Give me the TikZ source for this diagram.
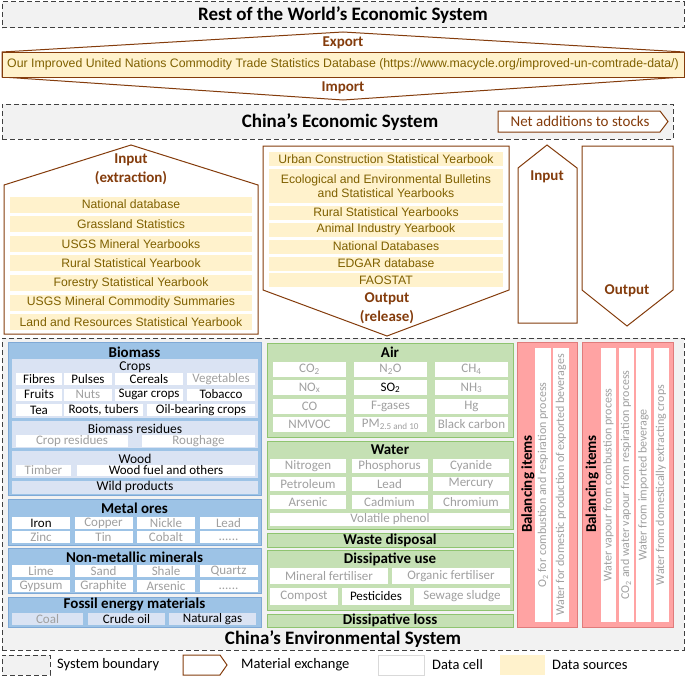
\documentclass[tikz,border=0pt]{standalone}
\usepackage{fontspec}
\setmainfont{Carlito}
\newfontfamily\arialf{Liberation Sans}
\definecolor{brn}{HTML}{843C0C}
\definecolor{dsfill}{HTML}{FFF2CC}
\definecolor{dstext}{HTML}{7F6000}
\definecolor{sysg}{HTML}{F2F2F2}
\definecolor{bluef}{HTML}{9DC3E6}
\definecolor{blued}{HTML}{7FA9D6}
\definecolor{bluel}{HTML}{DAE3F3}
\definecolor{greenf}{HTML}{C5E0B4}
\definecolor{greend}{HTML}{8FC470}
\definecolor{pinkf}{HTML}{FFA3A3}
\definecolor{pinkd}{HTML}{E07B7B}
\definecolor{natxt}{HTML}{A0A0A0}
\newcommand\sixdots{\vphantom{Lg}......}
\newcommand\bx[7]{\node[#1,inner sep=0pt,outer sep=0pt,minimum width={(#5-#3)*1pt},minimum height={(#6-#4)*1pt}] (#2) at ({(#3+#5)/2},{(#4+#6)/2}) {#7};}
\tikzset{
 sysbox/.style={draw=black!75,fill=sysg,dash pattern=on 5pt off 3pt,line width=1pt},
 systitle/.style={font=\fontsize{19}{22}\selectfont\bfseries,inner sep=0pt},
 exch/.style={draw=brn,line width=1pt,fill=white},
 brl/.style={text=brn,font=\fontsize{15}{18}\selectfont\bfseries,inner sep=0pt},
 ds/.style={fill=dsfill,text=dstext,font=\arialf\fontsize{12.2}{14}\selectfont,align=center},
 cell/.style={fill=white,font=\fontsize{13}{15}\selectfont},
 na/.style={cell,text=natxt},
 ok/.style={cell,text=black},
 bluebox/.style={fill=bluef,draw=blued,line width=0.8pt},
 bluesub/.style={fill=bluel},
 greenbox/.style={fill=greenf,draw=greend,line width=0.8pt},
 pinkbox/.style={fill=pinkf,draw=pinkd,line width=0.8pt},
 sect/.style={font=\fontsize{15}{18}\selectfont\bfseries,inner sep=0pt},
 subt/.style={font=\fontsize{13.5}{16}\selectfont,inner sep=0pt},
 rotcell/.style={fill=white},
 rottxt/.style={rotate=90,text=natxt,font=\fontsize{12}{14}\selectfont,inner sep=0pt},
 legt/.style={font=\fontsize{14.5}{17}\selectfont,anchor=west,inner sep=0pt},
}
\begin{document}
\begin{tikzpicture}[x=1pt,y=-1pt]
\useasboundingbox (0,0) rectangle (685,677);
% ---------- Rest of the world ----------
\bx{sysbox}{row}{2}{2}{684}{28}{}
\node[systitle] (rowt) at (343,15) {Rest of the World’s Economic System};
\draw[exch] (2,52) -- (343,32) -- (684,52) -- (684,77) -- (343,100) -- (2,77) -- cycle;
\bx{ds,draw=brn,line width=1pt,font=\arialf\fontsize{12.3}{14}\selectfont}{trade}{2}{52.5}{684}{77}{Our Improved United Nations Commodity Trade Statistics Database (https://www.macycle.org/improved-un-comtrade-data/)}
\node[brl] (export) at (343,43) {Export};
\node[brl] (import) at (343,88) {Import};
% ---------- China's economic system ----------
\bx{sysbox}{econ}{2}{104}{673}{139}{}
\node[systitle] (econt) at (340,122) {China’s Economic System};
\draw[exch] (498,111) -- (660,111) -- (668,121.5) -- (660,132) -- (498,132) -- cycle;
\node[font=\fontsize{15}{18}\selectfont,text=brn,inner sep=0pt] (nas) at (580,121.5) {Net additions to stocks};
% input (extraction)
\draw[exch] (4,185) -- (131,145) -- (258,185) -- (258,334) -- (4,334) -- cycle;
\node[brl] (inx1) at (131,160) {Input};
\node[brl] (inx2) at (131,178) {(extraction)};
\foreach \t [count=\i from 0] in {National database,Grassland Statistics,USGS Mineral Yearbooks,Rural Statistical Yearbook,Forestry Statistical Yearbook,USGS Mineral Commodity Summaries,Land and Resources Statistical Yearbook}{
  \pgfmathsetmacro\ya{196.5+\i*19.6}\pgfmathsetmacro\yb{\ya+16}
  \bx{ds}{in\i}{10}{\ya}{252}{\yb}{\t}
}
% output (release)
\draw[exch] (263,146) -- (509,146) -- (509,290) -- (387,336) -- (263,290) -- cycle;
\bx{ds}{o1}{269}{152}{503}{166}{Urban Construction Statistical Yearbook}
\bx{ds}{o2}{269}{169}{503}{203}{Ecological and Environmental Bulletins\\and Statistical Yearbooks}
\bx{ds}{o3}{269}{205.5}{503}{219.5}{Rural Statistical Yearbooks}
\bx{ds}{o4}{269}{222.5}{503}{236.5}{Animal Industry Yearbook}
\bx{ds}{o5}{269}{239.5}{503}{253.5}{National Databases}
\bx{ds}{o6}{269}{256.5}{503}{270.5}{EDGAR database}
\bx{ds}{o7}{269}{273}{503}{287}{FAOSTAT}
\node[brl] (outr1) at (387,299) {Output};
\node[brl] (outr2) at (387,317) {(release)};
% small input / output
\draw[exch] (518,168) -- (547,145) -- (577,168) -- (577,323) -- (518,323) -- cycle;
\node[brl] (in2) at (547,177) {Input};
\draw[exch] (582,146) -- (673,146) -- (673,290) -- (627,326) -- (582,290) -- cycle;
\node[brl] (out2) at (627,291) {Output};
% ---------- China's environmental system ----------
\bx{sysbox}{env}{2}{338}{684}{650}{}
\node[systitle] (envt) at (343,639) {China’s Environmental System};
% Biomass
\bx{bluebox}{bio}{8}{342}{261}{495}{}
\node[sect] (biot) at (134.5,352) {Biomass};
\bx{bluesub}{crops}{12}{359}{258}{418}{}
\node[subt] (cropst) at (135,367.5) {Crops};
\bx{ok}{c11}{16}{373}{62}{385}{Fibres}
\bx{ok}{c12}{64}{373}{112}{385}{Pulses}
\bx{ok}{c13}{115}{373}{183}{385}{Cereals}
\bx{na}{c14}{187}{373}{255}{385}{Vegetables}
\bx{ok}{c21}{16}{388.5}{62}{400.5}{Fruits}
\bx{na}{c22}{64}{388.5}{112}{400.5}{Nuts}
\bx{ok}{c23}{115}{388.5}{183}{400.5}{Sugar crops}
\bx{ok}{c24}{187}{388.5}{255}{400.5}{Tobacco}
\bx{ok}{c31}{16}{404}{62}{416}{Tea}
\bx{ok}{c32}{64}{404}{143}{416}{Roots, tubers}
\bx{ok}{c33}{147}{404}{255}{416}{Oil-bearing crops}
\bx{bluesub}{res}{12}{421}{258}{448}{}
\node[subt] (rest) at (135,429) {Biomass residues};
\bx{na}{r1}{16}{436}{128}{446}{Crop residues}
\bx{na}{r2}{142}{436}{255}{446}{Roughage}
\bx{bluesub}{wood}{12}{450.5}{258}{478}{}
\node[subt] (woodt) at (135,458.5) {Wood};
\bx{na}{w1}{16}{465}{71}{476}{Timber}
\bx{ok}{w2}{77}{465}{255}{476}{Wood fuel and others}
\bx{bluesub,subt}{wild}{12}{480.5}{258}{494}{Wild products}
% Metal ores
\bx{bluebox}{met}{8}{499}{261}{545}{}
\node[sect] (mett) at (134.5,508) {Metal ores};
\foreach \t/\s [count=\i from 0] in {Iron/ok,Copper/na,Nickle/na,Lead/na,Zinc/na,Tin/na,Cobalt/na,\sixdots/na}{
  \pgfmathtruncatemacro\c{mod(\i,4)}\pgfmathtruncatemacro\r{div(\i,4)}
  \pgfmathsetmacro\xa{12+\c*62.5}\pgfmathsetmacro\xb{\xa+58}
  \pgfmathsetmacro\ya{517+\r*14}\pgfmathsetmacro\yb{\ya+12}
  \bx{\s}{m\i}{\xa}{\ya}{\xb}{\yb}{\t}
}
% Non-metallic minerals
\bx{bluebox}{nm}{8}{548}{261}{593}{}
\node[sect] (nmt) at (134.5,557.5) {Non-metallic minerals};
\foreach \t [count=\i from 0] in {Lime,Sand,Shale,Quartz,Gypsum,Graphite,Arsenic,\sixdots}{
  \pgfmathtruncatemacro\c{mod(\i,4)}\pgfmathtruncatemacro\r{div(\i,4)}
  \pgfmathsetmacro\xa{12+\c*62.5}\pgfmathsetmacro\xb{\xa+58}
  \pgfmathsetmacro\ya{565+\r*15}\pgfmathsetmacro\yb{\ya+12}
  \bx{na}{n\i}{\xa}{\ya}{\xb}{\yb}{\t}
}
% Fossil
\bx{bluebox}{fos}{8}{597}{261}{627}{}
\node[sect] (fost) at (134.5,605) {Fossil energy materials};
\bx{na,fill=bluel}{f1}{12}{613}{83}{625}{Coal}
\bx{ok,fill=bluel}{f2}{88}{613}{165}{625}{Crude oil}
\bx{ok,fill=bluel}{f3}{169}{613}{256}{625}{Natural gas}
% Air
\bx{greenbox}{air}{267}{343}{513}{437}{}
\node[sect] (airt) at (390,352) {Air};
\foreach \t/\s [count=\i from 0] in {CO\textsubscript{2}/na,N\textsubscript{2}O/na,CH\textsubscript{4}/na,NO\textsubscript{x}/na,SO\textsubscript{2}/ok,NH\textsubscript{3}/na,CO/na,F-gases/na,Hg/na,NMVOC/na,PM\textsubscript{2.5 and 10}/na,Black carbon/na}{
  \pgfmathtruncatemacro\c{mod(\i,3)}\pgfmathtruncatemacro\r{div(\i,3)}
  \pgfmathsetmacro\xa{273+\c*81}\pgfmathsetmacro\xb{\xa+73}
  \pgfmathsetmacro\ya{362+\r*18.3}\pgfmathsetmacro\yb{\ya+15}
  \bx{\s}{a\i}{\xa}{\ya}{\xb}{\yb}{\t}
}
% Water
\bx{greenbox}{wat}{267}{441}{513}{529}{}
\node[sect] (watt) at (390,450) {Water};
\foreach \t [count=\i from 0] in {Nitrogen,Phosphorus,Cyanide,Petroleum,Lead,Mercury,Arsenic,Cadmium,Chromium}{
  \pgfmathtruncatemacro\c{mod(\i,3)}\pgfmathtruncatemacro\r{div(\i,3)}
  \pgfmathsetmacro\xa{270+\c*81.5}\pgfmathsetmacro\xb{\xa+76}
  \pgfmathsetmacro\ya{459+\r*17.8}\pgfmathsetmacro\yb{\ya+14}
  \bx{na}{wa\i}{\xa}{\ya}{\xb}{\yb}{\t}
}
\bx{na}{wa9}{270}{512.5}{510}{526}{Volatile phenol}
% Waste disposal
\bx{greenbox,sect}{waste}{267}{533}{513}{547}{Waste disposal}
% Dissipative use
\bx{greenbox}{du}{267}{550}{513}{610}{}
\node[sect] (dut) at (390,559.5) {Dissipative use};
\bx{na}{d1}{270}{568}{388}{584}{Mineral fertiliser}
\bx{na}{d2}{392}{568}{510}{584}{Organic fertiliser}
\bx{na}{d3}{270}{588}{338}{605}{Compost}
\bx{ok}{d4}{342}{588}{410}{605}{Pesticides}
\bx{na}{d5}{414}{588}{510}{605}{Sewage sludge}
% Dissipative loss
\bx{greenbox,sect}{dl}{267}{614}{513}{627}{Dissipative loss}
% Balancing items 1
\bx{pinkbox}{bal1}{517}{342}{577}{627}{}
\node[sect,rotate=90] (bal1t) at (528,484) {Balancing items};
\bx{rotcell}{b11}{535}{348}{551}{622}{}
\node[rottxt] (b11t) at (b11.center) {O\textsubscript{2} for combustion and respiration process};
\bx{rotcell}{b12}{553}{348}{569}{622}{}
\node[rottxt] (b12t) at (b12.center) {Water for domestic production of exported beverages};
% Balancing items 2
\bx{pinkbox}{bal2}{582}{342}{673}{627}{}
\node[sect,rotate=90] (bal2t) at (592,484) {Balancing items};
\bx{rotcell}{b21}{601}{348}{616}{622}{}
\node[rottxt] (b21t) at (b21.center) {Water vapour from combustion process};
\bx{rotcell}{b22}{618.5}{348}{633.5}{622}{}
\node[rottxt] (b22t) at (b22.center) {CO\textsubscript{2} and water vapour from respiration process};
\bx{rotcell}{b23}{636}{348}{651}{622}{}
\node[rottxt] (b23t) at (b23.center) {Water from imported beverage};
\bx{rotcell}{b24}{653.5}{348}{668.5}{622}{}
\node[rottxt] (b24t) at (b24.center) {Water from domestically extracting crops};
% ---------- Legend ----------
\bx{sysbox}{lg1}{2}{655}{50}{675}{}
\node[legt] (lg1t) at (57,665) {System boundary};
\draw[exch] (183,655) -- (220,655) -- (227,665) -- (220,675) -- (183,675) -- cycle;
\node[legt] (lg2t) at (241,665) {Material exchange};
\bx{fill=white,draw=black!15,line width=0.8pt}{lg3}{378}{655}{424}{675}{}
\node[legt] (lg3t) at (432,665) {Data cell};
\bx{fill=dsfill}{lg4}{500}{655}{545}{675}{}
\node[legt] (lg4t) at (552,665) {Data sources};
\end{tikzpicture}
\end{document}
